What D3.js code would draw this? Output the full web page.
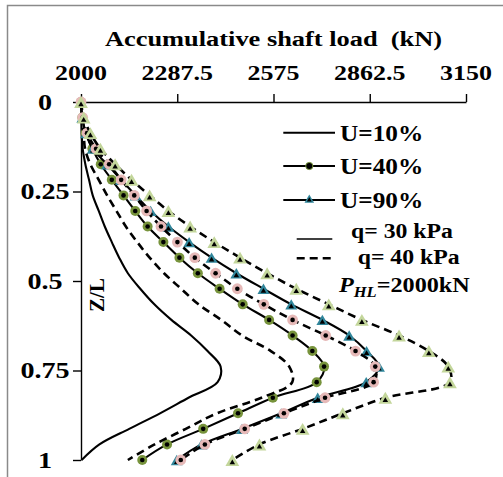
<!DOCTYPE html>
<html>
<head>
<meta charset="utf-8">
<script src="https://cdn.jsdelivr.net/npm/d3@7/dist/d3.min.js"></script>
<style>
  html, body { margin: 0; padding: 0; background: #fff; }
  svg { display: block; }
  text { font-family: "Liberation Serif", "Times New Roman", serif; font-weight: bold; fill: #000; white-space: pre; }
</style>
</head>
<body>
<svg id="chart" width="503" height="477"></svg>
<script>
// Normalised depth of each node along the pile (Z/L)
const depthRatio = [0, 0.0435, 0.087, 0.1304, 0.1739, 0.2174, 0.2609, 0.3043, 0.3478, 0.3913,
  0.4348, 0.4783, 0.5217, 0.5652, 0.6087, 0.6522, 0.6957, 0.7391, 0.7826, 0.8261,
  0.8696, 0.913, 0.9565, 1];

// Accumulative shaft load (kN) at each node
const loadU10q30 = [2000, 2001, 2002, 2005, 2013, 2024, 2035, 2053, 2071, 2092, 2114, 2140,
  2177, 2219, 2270, 2329, 2378, 2417, 2408, 2321, 2236, 2144, 2055, 2002];
const loadU40q30 = [2000, 2004, 2014, 2034, 2059, 2092, 2127, 2162, 2199, 2246, 2294, 2349,
  2414, 2483, 2562, 2632, 2691, 2726, 2704, 2573, 2469, 2365, 2257, 2183];
const loadU90q30 = [2000, 2004, 2015, 2035, 2078, 2120, 2163, 2208, 2261, 2323, 2390, 2464,
  2545, 2628, 2721, 2801, 2853, 2890, 2852, 2707, 2598, 2481, 2360, 2286];
const loadU10q40 = [2000, 2003, 2008, 2012, 2028, 2053, 2078, 2106, 2134, 2168, 2205, 2248,
  2299, 2351, 2419, 2481, 2567, 2622, 2631, 2539, 2406, 2313, 2220, 2140];
const loadU40q40 = [2000, 2005, 2018, 2045, 2084, 2120, 2159, 2196, 2239, 2288, 2340, 2402,
  2467, 2546, 2632, 2731, 2820, 2879, 2874, 2729, 2606, 2489, 2370, 2298];
const loadU90q40 = [2000, 2008, 2028, 2058, 2102, 2151, 2205, 2261, 2326, 2398, 2475, 2556,
  2643, 2740, 2839, 2950, 3039, 3097, 3102, 2909, 2782, 2662, 2533, 2452];

// Axis ticks
const loadTicks = [2000, 2287.5, 2575, 2862.5, 3150];
const loadTickLabels = ["2000", "2287.5", "2575", "2862.5", "3150"];
const depthTicks = [0, 0.25, 0.5, 0.75, 1];
const depthTickLabels = ["0", "0.25", "0.5", "0.75", "1"];

// Legend entries
const consolidationLabels = ["U=10%", "U=40%", "U=90%"];
const surchargeLabels = ["q= 30 kPa", "q= 40 kPa"];

const svg = d3.select("#chart");

// Frame around the figure
svg.append("rect")
  .attr("x", 7.5).attr("y", 5.5).attr("width", 700).attr("height", 700)
  .attr("fill", "none").attr("stroke", "#8a8a8a").attr("stroke-width", 1.5);

const x = d3.scaleLinear().domain([2000, 3150]).range([81, 466]);
const y = d3.scaleLinear().domain([0, 1]).range([102, 460]);

function stretchedText(g, px, py, str, size, anchor, sx) {
  return g.append("text")
    .attr("transform", `translate(${px},${py}) scale(${sx},1)`)
    .attr("text-anchor", anchor)
    .style("font-size", size + "px")
    .text(str);
}

// Axes (lines and tick marks)
const xAxis = svg.append("g").attr("transform", `translate(0,${y(0)})`)
  .call(d3.axisTop(x).tickValues(loadTicks).tickSize(8).tickSizeOuter(0).tickFormat(""));
const yAxis = svg.append("g").attr("transform", `translate(${x(2000)},0)`)
  .call(d3.axisLeft(y).tickValues(depthTicks).tickSize(8).tickSizeOuter(0).tickFormat(""));
[xAxis, yAxis].forEach(a => {
  a.selectAll("path, line").attr("stroke", "#000").attr("stroke-width", 1.4);
});

// Tick labels
loadTicks.forEach((v, i) => stretchedText(svg, x(v), 80, loadTickLabels[i], 22, "middle", 1.18));
depthTicks.forEach((v, i) => stretchedText(svg, 45, y(v) + 7.5, depthTickLabels[i], 22.5, "middle", 1.25));

// Axis titles
stretchedText(svg, (x(2000) + x(3150)) / 2, 45.5, "Accumulative shaft load  (kN)", 22, "middle", 1.2);
svg.append("text")
  .attr("transform", "translate(103.5,295) rotate(-90)")
  .attr("text-anchor", "middle")
  .style("font-size", "21px")
  .text("Z/L");

// Series
const series = [
  { values: loadU10q30, dash: null, marker: null },
  { values: loadU40q30, dash: null, marker: "circle", fill: "#77933C", size: 5 },
  { values: loadU90q30, dash: null, marker: "triangle", fill: "#31869B", size: 62 },
  { values: loadU10q40, dash: "8,5", marker: null },
  { values: loadU40q40, dash: "8,5", marker: "circle", fill: "#E6B9B8", size: 5.4 },
  { values: loadU90q40, dash: "8,5", marker: "triangle", fill: "#C3D69B", size: 82 }
];

const line = d3.line()
  .x(d => x(d.load))
  .y(d => y(d.z))
  .curve(d3.curveCatmullRom.alpha(0.5));

function drawMarker(g, s) {
  if (s.marker === "circle") {
    g.append("circle").attr("r", s.size).attr("fill", s.fill);
    g.append("circle").attr("r", 2.3).attr("fill", "#000");
  } else {
    const side = Math.sqrt(s.size * 4 / Math.sqrt(3));
    const shift = side * Math.sqrt(3) / 12;
    g.append("path").attr("d", d3.symbol().type(d3.symbolTriangle).size(s.size)())
      .attr("fill", s.fill).attr("transform", `translate(0,${shift})`);
    g.append("path").attr("d", d3.symbol().type(d3.symbolTriangle).size(13)())
      .attr("fill", "#000").attr("transform", `translate(0,${shift + 0.6})`);
  }
}

const plot = svg.append("g");
series.forEach(s => {
  const pts = depthRatio.map((z, i) => ({ z, load: s.values[i] }));
  const g = plot.append("g");
  g.append("path")
    .attr("d", line(pts))
    .attr("fill", "none")
    .attr("stroke", "#000")
    .attr("stroke-width", s.dash ? 2.6 : 2.1)
    .attr("stroke-dasharray", s.dash);
  if (s.marker) {
    g.selectAll("g.m").data(pts).join("g")
      .attr("class", "m")
      .attr("transform", d => `translate(${x(d.load)},${y(d.z)})`)
      .each(function () { drawMarker(d3.select(this), s); });
  }
});

// Legend
const legend = svg.append("g");
const legendRows = [132.7, 166, 200];
consolidationLabels.forEach((lab, i) => {
  const ly = legendRows[i];
  legend.append("line").attr("x1", 283.3).attr("x2", 335).attr("y1", ly).attr("y2", ly)
    .attr("stroke", "#000").attr("stroke-width", 2);
  if (series[i].marker === "circle") {
    legend.append("circle").attr("cx", 309.3).attr("cy", ly).attr("r", 3.6)
      .attr("fill", "#000").attr("stroke", series[i].fill).attr("stroke-width", 1);
  } else if (series[i].marker === "triangle") {
    const m = legend.append("g").attr("transform", `translate(309.3,${ly})`);
    m.append("path").attr("d", d3.symbol().type(d3.symbolTriangle).size(40)()).attr("fill", series[i].fill);
    m.append("path").attr("d", d3.symbol().type(d3.symbolTriangle).size(10)()).attr("fill", "#000");
  }
  stretchedText(legend, 340, ly + 7.8, lab, 23, "start", 1.1);
});

const qRows = [{ ly: 239, ty: 238.3, tx: 351 }, { ly: 258.3, ty: 264.3, tx: 357.7 }];
surchargeLabels.forEach((lab, i) => {
  const r = qRows[i];
  legend.append("line").attr("x1", 296.7).attr("x2", 332.3).attr("y1", r.ly).attr("y2", r.ly)
    .attr("stroke", "#000").attr("stroke-width", i === 0 ? 1.5 : 2.6)
    .attr("stroke-dasharray", i === 0 ? null : "8,5");
  stretchedText(legend, r.tx, r.ty, lab, 22, "start", 1.08);
});

// Horizontal load annotation
const pText = legend.append("text")
  .attr("transform", "translate(339,291.7) scale(1.1,1)")
  .style("font-size", "22px");
pText.append("tspan").style("font-style", "italic").text("P");
pText.append("tspan").style("font-style", "italic").style("font-size", "15px").attr("dy", 5).text("HL");
pText.append("tspan").attr("dy", -5).text("=2000kN");
</script>
</body>
</html>
